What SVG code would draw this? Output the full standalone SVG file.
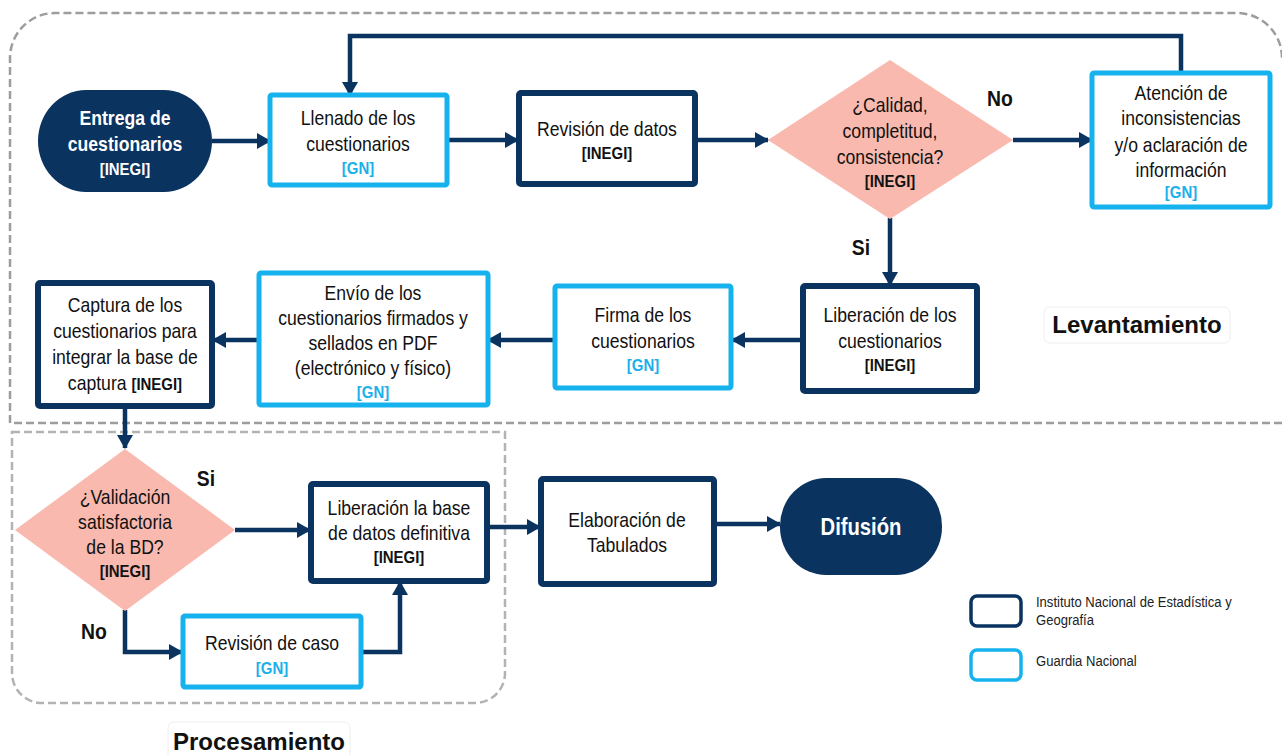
<svg xmlns="http://www.w3.org/2000/svg" width="1282" height="755" viewBox="0 0 1282 755">
<defs>
<marker id="ah" markerUnits="userSpaceOnUse" markerWidth="14" markerHeight="16" refX="13" refY="8" orient="auto">
<path d="M0,0 L14,8 L0,16 Z" fill="#0b3360"/>
</marker>
<style>
text{font-family:"Liberation Sans",Arial,sans-serif;text-anchor:middle}
.t,.tb,.gn,.w,.wi,.lbl,.nar{transform-box:fill-box;transform-origin:center;transform:scaleX(0.88)}
.t{font-size:20px;fill:#111}
.tb{font-size:17px;font-weight:bold;fill:#111}
.gn{font-size:17px;font-weight:bold;fill:#1bb0ea}
.w{font-size:20px;font-weight:bold;fill:#fff}
.wi{font-size:17px;font-weight:bold;fill:#fff}
.nv{fill:#fff;stroke:#0b3360;stroke-width:6}
.lb{fill:#fff;stroke:#16b2ee;stroke-width:5}
.dm{fill:#f9b9ae;stroke:none}
.term{fill:#0b3360}
.con{fill:none;stroke:#0b3360;stroke-width:4.5}
.lbl{font-size:22px;font-weight:bold;fill:#111}
.reg{fill:none;stroke:#9d9d9d;stroke-width:2.5;stroke-dasharray:8 4}
.leg{font-size:15px;fill:#222;text-anchor:start;transform-box:fill-box;transform-origin:left center;transform:scaleX(0.87)}
</style>
</defs>

<g id="regions">
<path class="reg" d="M1282 423 L10 423 L10 58 A45 45 0 0 1 55 13 L1237 13 A45 45 0 0 1 1282 58"/>
<path class="reg" style="stroke:#b3b3b3" d="M12 432 L505 432 L505 673 A30 30 0 0 1 475 703 L42 703 A30 30 0 0 1 12 673 Z"/>
</g>

<g id="connectors">
<line class="con" x1="212" y1="141" x2="270" y2="141" marker-end="url(#ah)"/>
<line class="con" x1="447" y1="140" x2="518" y2="140" marker-end="url(#ah)"/>
<line class="con" x1="696" y1="140" x2="768" y2="140" marker-end="url(#ah)"/>
<line class="con" x1="1013" y1="140" x2="1092" y2="140" marker-end="url(#ah)"/>
<polyline class="con" points="1181,72 1181,36 350,36 350,95" marker-end="url(#ah)"/>
<line class="con" x1="890" y1="218" x2="890" y2="285" marker-end="url(#ah)"/>
<line class="con" x1="802" y1="340" x2="732" y2="340" marker-end="url(#ah)"/>
<line class="con" x1="553" y1="340" x2="488" y2="340" marker-end="url(#ah)"/>
<line class="con" x1="258" y1="340" x2="213" y2="340" marker-end="url(#ah)"/>
<line class="con" x1="125" y1="407" x2="125" y2="448" marker-end="url(#ah)"/>
<line class="con" x1="235" y1="530" x2="310" y2="530" marker-end="url(#ah)"/>
<polyline class="con" points="125,610 125,652 182,652" marker-end="url(#ah)"/>
<polyline class="con" points="362,652 400,652 400,582" marker-end="url(#ah)"/>
<line class="con" x1="488" y1="527" x2="540" y2="527" marker-end="url(#ah)"/>
<line class="con" x1="715" y1="524" x2="780" y2="524" marker-end="url(#ah)"/>
</g>

<g id="entrega">
<rect class="term" x="38" y="90" width="174" height="102" rx="48" ry="51"/>
<text class="w" x="125" y="125">Entrega de</text>
<text class="w" x="125" y="151">cuestionarios</text>
<text class="wi" x="125" y="175">[INEGI]</text>
</g>

<g id="llenado">
<rect class="lb" x="270" y="95" width="177" height="90" rx="2"/>
<text class="t" x="358" y="125">Llenado de los</text>
<text class="t" x="358" y="151">cuestionarios</text>
<text class="gn" x="358" y="174">[GN]</text>
</g>

<g id="revision">
<rect class="nv" x="519" y="93" width="176" height="91" rx="2"/>
<text class="t" x="607" y="136">Revisión de datos</text>
<text class="tb" x="607" y="159">[INEGI]</text>
</g>

<g id="calidad">
<polygon class="dm" points="890,60 1013,140 890,219 768,140"/>
<text class="t" x="890" y="112">¿Calidad,</text>
<text class="t" x="890" y="138">completitud,</text>
<text class="t" x="890" y="164">consistencia?</text>
<text class="tb" x="890" y="187">[INEGI]</text>
</g>
<text class="lbl" x="1000" y="106">No</text>
<text class="lbl" x="861" y="255">Si</text>

<g id="atencion">
<rect class="lb" x="1092" y="73" width="178" height="134" rx="2"/>
<text class="t" x="1181" y="100">Atención de</text>
<text class="t" x="1181" y="125">inconsistencias</text>
<text class="t" x="1181" y="152">y/o aclaración de</text>
<text class="t" x="1181" y="177">información</text>
<text class="gn" x="1181" y="198">[GN]</text>
</g>

<g id="liberacion">
<rect class="nv" x="803" y="286" width="174" height="105" rx="2"/>
<text class="t" x="890" y="322">Liberación de los</text>
<text class="t" x="890" y="348">cuestionarios</text>
<text class="tb" x="890" y="371">[INEGI]</text>
</g>

<g id="firma">
<rect class="lb" x="555" y="286" width="176" height="102" rx="2"/>
<text class="t" x="643" y="322">Firma de los</text>
<text class="t" x="643" y="348">cuestionarios</text>
<text class="gn" x="643" y="371">[GN]</text>
</g>

<g id="envio">
<rect class="lb" x="259" y="273" width="229" height="132" rx="2"/>
<text class="t" x="373" y="300">Envío de los</text>
<text class="t" x="373" y="325">cuestionarios firmados y</text>
<text class="t" x="373" y="350">sellados en PDF</text>
<text class="t" x="373" y="375">(electrónico y físico)</text>
<text class="gn" x="373" y="398">[GN]</text>
</g>

<g id="captura">
<rect class="nv" x="38" y="283" width="174" height="123" rx="2"/>
<text class="t" x="125" y="312">Captura de los</text>
<text class="t" x="125" y="338">cuestionarios para</text>
<text class="t" x="125" y="364">integrar la base de</text>
<text class="t" x="125" y="390">captura <tspan style="font-size:17px;font-weight:bold">[INEGI]</tspan></text>
</g>

<g id="levantamiento-label">
<rect x="1044" y="307" width="186" height="36" rx="6" fill="#fff" stroke="#eeeeee" stroke-width="1"/>
<text x="1137" y="333" style="font-size:24px;font-weight:bold;fill:#111">Levantamiento</text>
</g>

<g id="validacion">
<polygon class="dm" points="125,449 235,530 125,611 15,530"/>
<text class="t" x="125" y="504">¿Validación</text>
<text class="t" x="125" y="529">satisfactoria</text>
<text class="t" x="125" y="554">de la BD?</text>
<text class="tb" x="125" y="577">[INEGI]</text>
</g>
<text class="lbl" x="206" y="486">Si</text>
<text class="lbl" x="94" y="639">No</text>

<g id="liberacion-base">
<rect class="nv" x="311" y="484" width="176" height="97" rx="2"/>
<text class="t" x="399" y="515">Liberación la base</text>
<text class="t" x="399" y="540">de datos definitiva</text>
<text class="tb" x="399" y="563">[INEGI]</text>
</g>

<g id="revision-caso">
<rect class="lb" x="183" y="616" width="178" height="71" rx="2"/>
<text class="t" x="272" y="650">Revisión de caso</text>
<text class="gn" x="272" y="674">[GN]</text>
</g>

<g id="elaboracion">
<rect class="nv" x="541" y="479" width="173" height="105" rx="2"/>
<text class="t" x="627" y="527">Elaboración de</text>
<text class="t" x="627" y="552">Tabulados</text>
</g>

<g id="difusion">
<rect class="term" x="780" y="478" width="162" height="97" rx="46" ry="48"/>
<text class="nar" x="861" y="535" style="font-size:23px;font-weight:bold;fill:#fff">Difusión</text>
</g>

<g id="procesamiento-label">
<rect x="168" y="722" width="182" height="40" rx="6" fill="#fff" stroke="#eeeeee" stroke-width="1"/>
<text x="259" y="750" style="font-size:24px;font-weight:bold;fill:#111">Procesamiento</text>
</g>

<g id="legend">
<rect x="971" y="596" width="50" height="30" rx="6" fill="#fff" stroke="#0b3360" stroke-width="3.5"/>
<text class="leg" x="1036" y="607">Instituto Nacional de Estadística y</text>
<text class="leg" x="1036" y="625">Geografía</text>
<rect x="971" y="650" width="50" height="30" rx="6" fill="#fff" stroke="#16b2ee" stroke-width="3.5"/>
<text class="leg" x="1036" y="666">Guardia Nacional</text>
</g>
</svg>
